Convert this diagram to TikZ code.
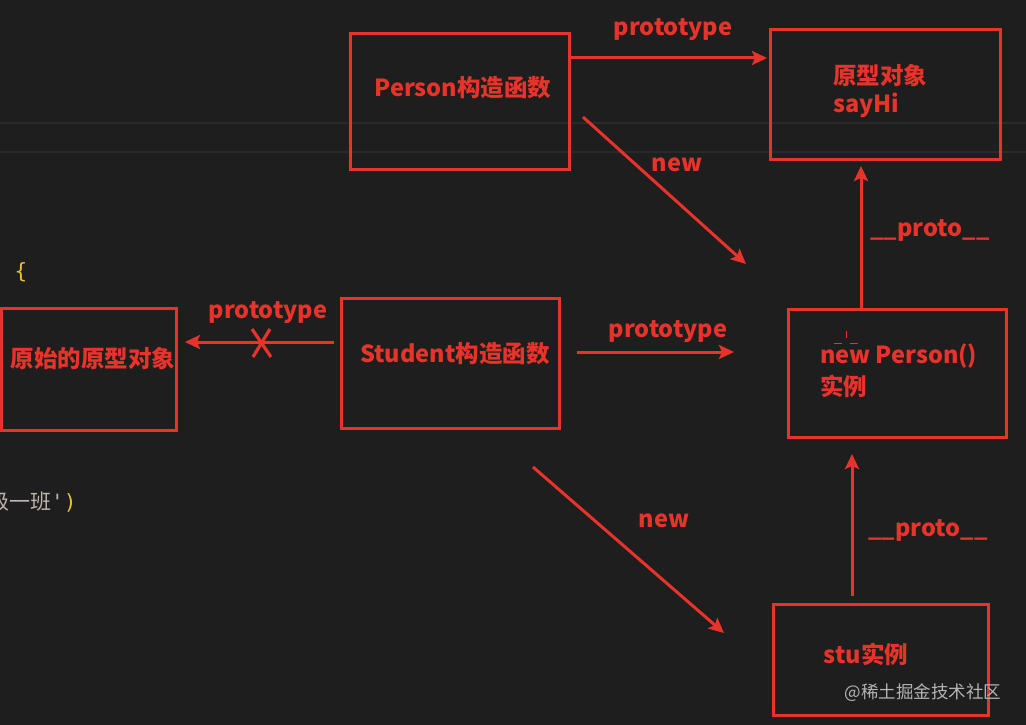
\documentclass[tikz,border=0pt]{standalone}
\usepackage{fontspec}
\setmainfont{Noto Sans CJK SC}
\newfontfamily\codefont{DejaVu Sans Mono}
\usetikzlibrary{arrows.meta}
\definecolor{bg}{HTML}{1E1E1E}
\definecolor{rd}{HTML}{E8332B}
\definecolor{faint}{HTML}{2A2A2A}
\definecolor{codegray}{HTML}{BDB5AD}
\definecolor{codeyellow}{HTML}{E8C22A}
\definecolor{wm}{HTML}{B4B4B4}
\begin{document}
\begin{tikzpicture}[x=1pt,y=-1pt,
  box/.style={draw=rd, line width=3pt, inner sep=0pt},
  arr/.style={draw=rd, line width=3pt, -{Stealth[length=15pt,width=14pt,inset=3pt]}},
  lbl/.style={text=rd, font=\bfseries\fontsize{23.5}{28}\selectfont, inner sep=0pt},
  code/.style={font=\fontsize{21}{24}\selectfont, inner sep=0pt}]
\useasboundingbox (0,0) rectangle (1026,725);
\fill[bg] (0,0) rectangle (1026,725);
\draw[faint, line width=2pt] (0,123) -- (1026,123);
\draw[faint, line width=2pt] (0,152) -- (1026,152);
% code fragments
\node[code, text=codeyellow] (brace) at (21,272) {\codefont\{};
\node[code, anchor=west] (codeline) at (-12,502) {\textcolor{codegray}{级一班\codefont\char39}\textcolor{codeyellow}{\codefont)}};
% boxes
\node[box, minimum width=219pt, minimum height=135pt] (person) at (459.5,101.5) {};
\node[box, minimum width=230pt, minimum height=129pt] (proto) at (885,94.5) {};
\node[box, minimum width=175pt, minimum height=122pt] (orig) at (88.5,369) {};
\node[box, minimum width=218pt, minimum height=130pt] (student) at (450,363) {};
\node[box, minimum width=218pt, minimum height=128pt] (newp) at (897,373) {};
\node[box, minimum width=215pt, minimum height=111pt] (stu) at (880.5,659.5) {};
% box texts
\node[lbl] (personT) at (463,88) {Person构造函数};
\node[lbl, anchor=west] (protoT1) at (833,76) {原型对象};
\node[lbl, anchor=west] (protoT2) at (833,105) {sayHi};
\node[lbl] (origT) at (93,359) {原始的原型对象};
\node[lbl] (studentT) at (455,354) {Student构造函数};
\node[lbl, anchor=west] (newpT1) at (820,356) {new Person()};
\node[lbl, anchor=west] (newpT2) at (820,386) {实例};
\node[lbl] (stuT) at (866,654) {stu实例};
% cursor marks
\draw[rd, line width=1pt] (834,343) -- (842,343) (850,343) -- (858,343) (846,331) -- (846,338);
% arrow end points
\coordinate (a1s) at (569,58);  \coordinate (a1e) at (767,58);
\coordinate (a2s) at (583,117); \coordinate (a2e) at (746,264);
\coordinate (a3s) at (861,308); \coordinate (a3e) at (861,166);
\coordinate (a4s) at (577,352); \coordinate (a4e) at (734,352);
\coordinate (a5s) at (334,342); \coordinate (a5e) at (185,342);
\coordinate (a6s) at (533,467); \coordinate (a6e) at (724,633);
\coordinate (a7s) at (852,596); \coordinate (a7e) at (852,454);
\draw[arr] (a1s) -- (a1e);
\draw[arr] (a2s) -- (a2e);
\draw[arr] (a3s) -- (a3e);
\draw[arr] (a4s) -- (a4e);
\draw[arr] (a5s) -- (a5e);
\draw[arr] (a6s) -- (a6e);
\draw[arr] (a7s) -- (a7e);
% cross
\draw[rd, line width=3.2pt] (252,329) -- (271,357) (270,329) -- (253,357);
% labels
\node[lbl] (l1) at (673,30) {prototype};
\node[lbl] (l2) at (677,165) {new};
\node[lbl] (l3) at (930,230) {\_\_proto\_\_};
\node[lbl] (l4) at (668,332) {prototype};
\node[lbl] (l5) at (268,313) {prototype};
\node[lbl] (l6) at (664,521) {new};
\node[lbl] (l7) at (928,530) {\_\_proto\_\_};
% watermark
\node[text=wm, font=\fontsize{17.5}{20}\selectfont, inner sep=0pt] (wmk) at (923,693) {@稀土掘金技术社区};
\end{tikzpicture}
\end{document}
